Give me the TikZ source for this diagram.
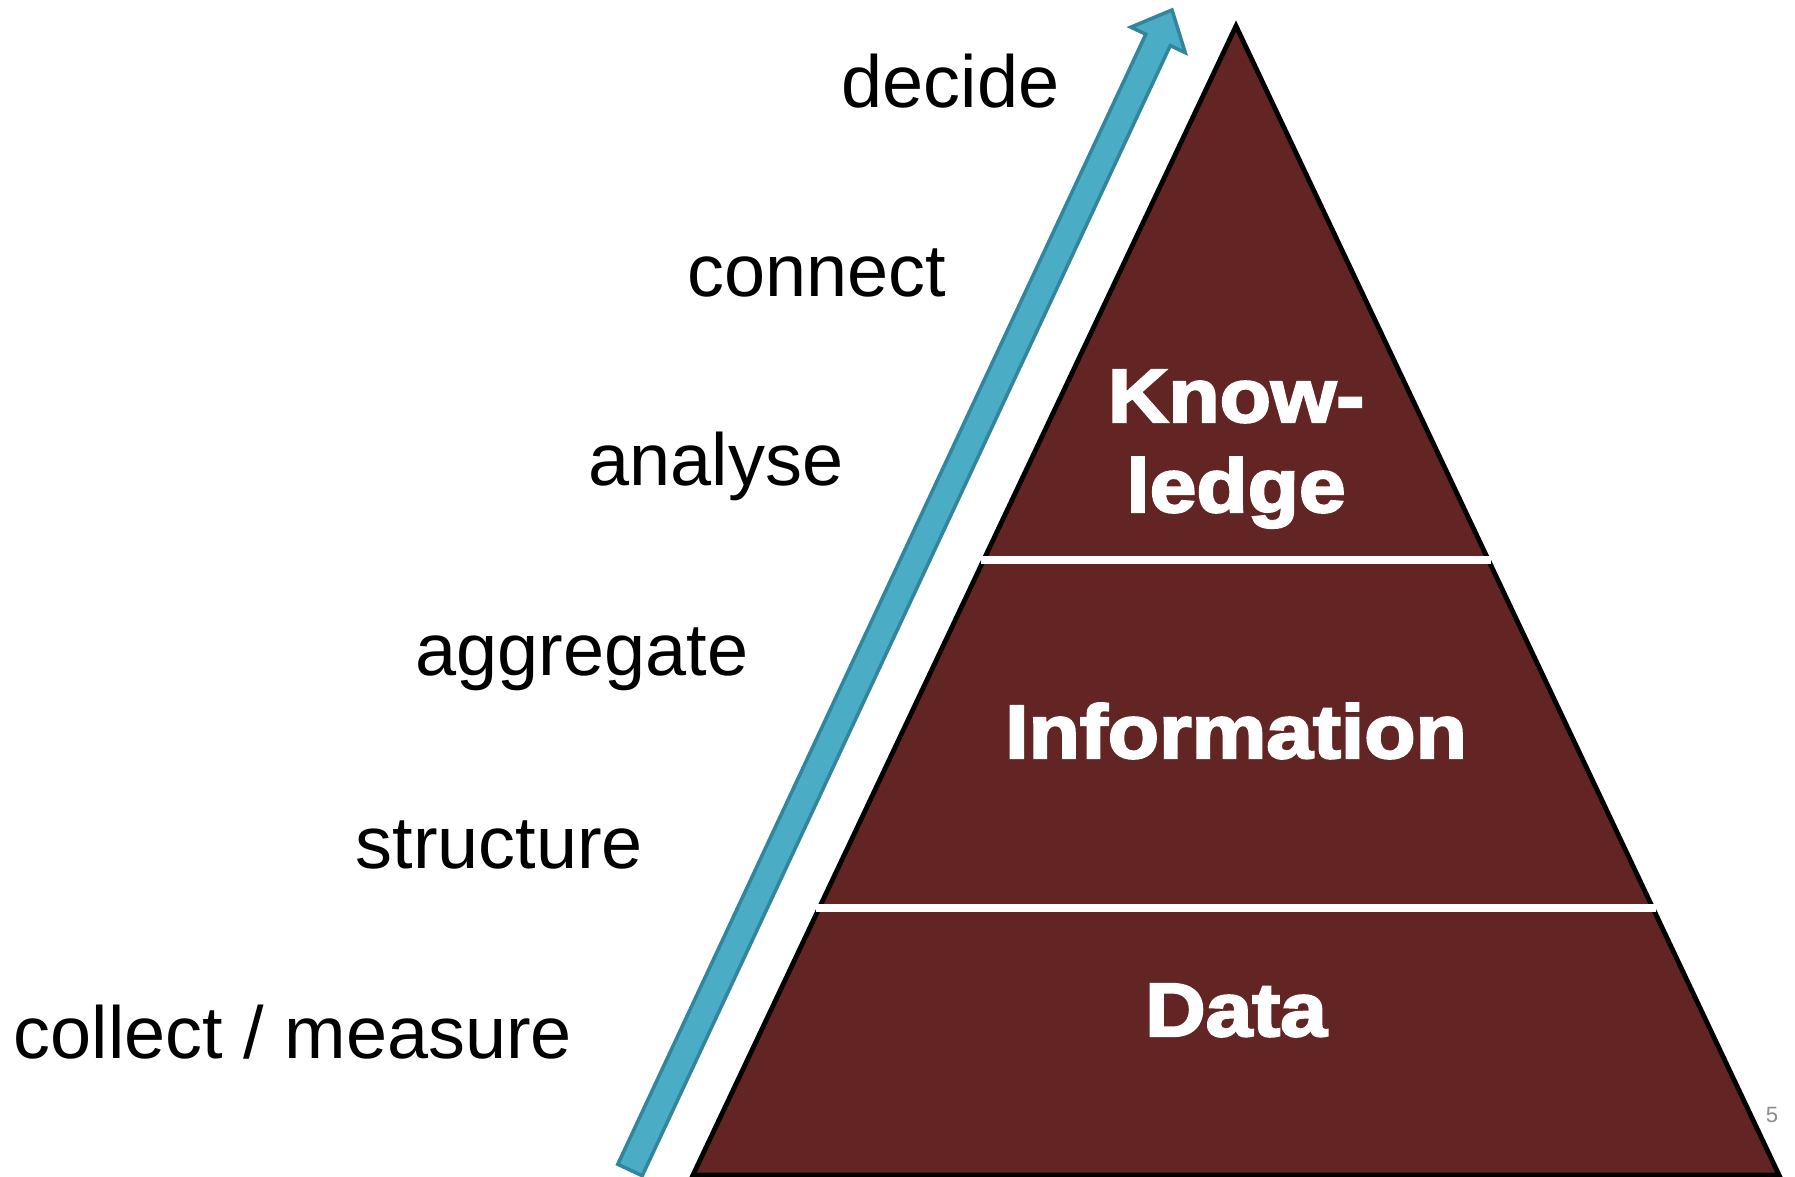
\documentclass[tikz,border=0pt]{standalone}
\usepackage{fontspec}
\setmainfont{Liberation Sans}
\newfontfamily\levelfont{Liberation Sans}[FakeStretch=1.11,FakeBold=3]
\usetikzlibrary{
  calc
}
\definecolor{darkRed}{HTML}{632523}
\definecolor{lightBlue}{HTML}{4BACC6}
\definecolor{darkBlue}{HTML}{31859C}
\definecolor{pageGray}{HTML}{8C8C8C}
\tikzset{
  actionLabel/.style={
    anchor=base west,
    inner sep=0pt,
    font=\fontsize{21}{21}\selectfont
  },
  levelLabel/.style={
    text=white,
    inner sep=0pt,
    align=center,
    anchor=base,
    font=\levelfont\bfseries\fontsize{21.5}{25.6}\selectfont
  },
  pyramid/.style={
    fill=darkRed,
    draw=black,
    line width=0.048cm
  },
  divider/.style={
    draw=white,
    line width=0.08cm,
    shorten <=-0.03cm,
    shorten >=-0.03cm
  },
  upArrow/.style={
    fill=lightBlue,
    draw=darkBlue,
    line width=0.035cm
  },
  pageNum/.style={
    text=pageGray,
    inner sep=0pt,
    font=\fontsize{6.3}{7}\selectfont
  }
}

\begin{document}
\begin{tikzpicture}[x=0.01cm, y=-0.01cm]
    \useasboundingbox (0,0) rectangle (1795,1177);

    % pyramid
    \coordinate (top) at (1236,26);
    \coordinate (bottomLeft) at (693,1175);
    \coordinate (bottomRight) at (1779,1175);
    \draw[pyramid] (top) -- (bottomLeft) -- (bottomRight) -- cycle;
    \draw[divider] ($(top)!0.4648!(bottomLeft)$) -- ($(top)!0.4648!(bottomRight)$);
    \draw[divider] ($(top)!0.7676!(bottomLeft)$) -- ($(top)!0.7676!(bottomRight)$);

    \node[levelLabel] (knowledge) at (1236,512) {Know-\\ledge};
    \node[levelLabel] (information) at (1236,758) {Information};
    \node[levelLabel] (data) at (1236,1036) {Data};

    % arrow
    \coordinate (arrowTail) at (630,1170);
    \coordinate (arrowTip) at (1172,10);
    \coordinate (arrowNeck) at ($(arrowTip)!0.33cm!(arrowTail)$);
    \draw[upArrow]
      ($(arrowTail)!0.135cm!90:(arrowTip)$)
      -- ($(arrowNeck)!0.135cm!90:(arrowTip)$)
      -- ($(arrowNeck)!0.30cm!90:(arrowTip)$)
      -- (arrowTip)
      -- ($(arrowNeck)!0.30cm!-90:(arrowTip)$)
      -- ($(arrowNeck)!0.135cm!-90:(arrowTip)$)
      -- ($(arrowTail)!0.135cm!-90:(arrowTip)$)
      -- cycle;

    % steps
    \node[actionLabel] (decide) at (841,108) {decide};
    \node[actionLabel] (connect) at (687,297) {connect};
    \node[actionLabel] (analyse) at (588,486) {analyse};
    \node[actionLabel] (aggregate) at (415,676) {aggregate};
    \node[actionLabel] (structure) at (355,868) {structure};
    \node[actionLabel] (collect) at (13,1058) {collect / measure};

    \node[pageNum] (pagenum) at (1772,1115) {5};
\end{tikzpicture}
\end{document}
